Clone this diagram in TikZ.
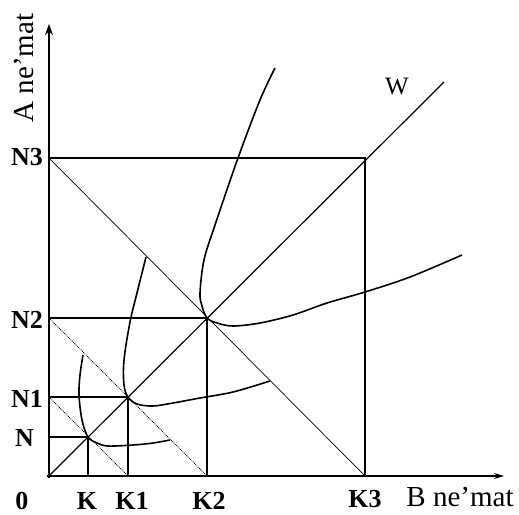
\documentclass[tikz,border=0pt]{standalone}
\usepackage{fontspec}
\setmainfont{Liberation Serif}
\usetikzlibrary{arrows.meta}
\begin{document}
\begin{tikzpicture}[x=1pt,y=-1pt,
  axis/.style={line width=2.4pt,-{Stealth[length=11pt,width=8pt]}},
  grid/.style={line width=1.6pt},
  heavy/.style={line width=2.6pt},
  diag/.style={line width=1.2pt},
  anti/.style={line width=0.7pt},
  antidot/.style={line width=0.8pt,densely dotted},
  isoq/.style={line width=1.6pt,smooth,tension=0.55},
  lab/.style={font=\fontsize{26}{26}\selectfont\bfseries,inner sep=0pt},
  axlab/.style={font=\fontsize{29}{29}\selectfont,inner sep=0pt}]
\useasboundingbox (0,0) rectangle (519,514);
% key points
\coordinate (O) at (49,476);
\coordinate (K) at (88,476);
\coordinate (K1) at (128,476);
\coordinate (K2) at (207,476);
\coordinate (K3) at (365,476);
\coordinate (N) at (49,437);
\coordinate (N1) at (49,397);
\coordinate (N2) at (49,318);
\coordinate (N3) at (49,158);
\coordinate (P0) at (88,437);
\coordinate (P1) at (128,397);
\coordinate (P2) at (207,318);
\coordinate (P3) at (365,158);
\coordinate (Wend) at (444,82);
\coordinate (Ytop) at (49,24);
\coordinate (Xend) at (504,476);
\coordinate (Ybot) at (49,478);
\coordinate (Xbeg) at (47,476);
% axes
\draw[axis] (Ybot) -- (Ytop);
\draw[line width=2.4pt] (Xbeg) -- (400,476);
\draw[line width=1.4pt,-{Stealth[length=10pt,width=6pt]}] (400,476) -- (Xend);
% square grid lines
\draw[grid] (N3) -- (P3) -- (K3);
\draw[heavy] (N2) -- (P2);
\draw[grid] (P2) -- (K2);
\draw[grid] (N1) -- (P1) -- (K1);
\draw[grid] (N) -- (P0) -- (K);
% diagonal W
\draw[diag] (O) -- (Wend);
% anti-diagonals
\draw[anti] (N3) -- (K3);
\draw[antidot] (N2) -- (K2);
\draw[antidot] (N1) -- (K1);
% isoquants
\draw[isoq] plot coordinates {(83,355) (80,375) (79,395) (82,420) (88,437) (97,443) (108,446) (133,445) (153,443) (170,440)};
\draw[isoq] plot coordinates {(146,257) (137,293) (130,322) (124,360) (124,385) (128,397) (137,404) (153,406) (173,403) (200,398) (233,392) (270,381)};
\draw[isoq] plot coordinates {(275,68) (260,100) (238,158) (215,225) (204,260) (200,293) (202,306) (207,318) (217,323) (233,326) (260,323) (293,315) (327,303) (365,292) (410,277) (462,255)};
% labels
\node[axlab,rotate=90] (ylab) at (24,68) {A ne’mat};
\node[axlab] (xlab) at (460,497) {B ne’mat};
\node[font=\fontsize{25}{25}\selectfont,inner sep=0pt] (wlab) at (397,87) {W};
\node[lab,anchor=east] (lN3) at (43,157) {N3};
\node[lab,anchor=east] (lN2) at (43,320) {N2};
\node[lab,anchor=east] (lN1) at (43,399) {N1};
\node[lab,anchor=east] (lN) at (34,438) {N};
\node[lab] (l0) at (22,501) {0};
\node[lab] (lK) at (87,501) {K};
\node[lab] (lK1) at (132,501) {K1};
\node[lab] (lK2) at (209,501) {K2};
\node[lab] (lK3) at (365,499) {K3};
\end{tikzpicture}
\end{document}
